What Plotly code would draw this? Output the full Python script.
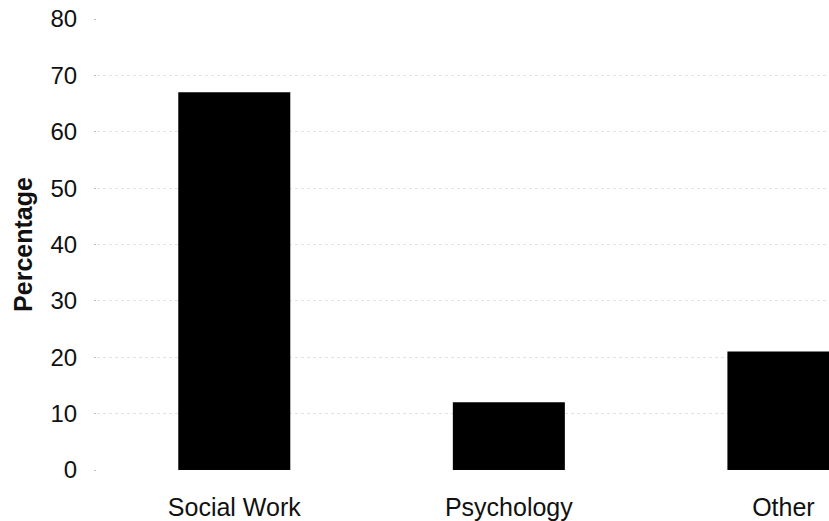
import plotly.graph_objects as go

categories = ["Social Work", "Psychology", "Other"]
values = [67, 12, 21]
y_ticks = [0, 10, 20, 30, 40, 50, 60, 70, 80]

fig = go.Figure(go.Bar(
    x=categories, y=values,
    marker=dict(color="black", line=dict(width=0)),
    width=0.408,
))

fig.update_layout(
    width=829, height=521,
    margin=dict(l=97, r=0, t=19, b=51, autoexpand=False),
    paper_bgcolor="white", plot_bgcolor="white",
    font=dict(family="Liberation Sans, Arial", size=24, color="#111"),
    showlegend=False,
)
fig.update_xaxes(
    range=[-0.5, 2.166],
    showgrid=False, showline=False, zeroline=False,
    ticks="", ticklabelstandoff=20,
    tickfont=dict(size=25),
    automargin=False,
)
fig.update_yaxes(
    range=[0, 80], tickvals=y_ticks,
    showgrid=True, gridcolor="#e2e2e2", griddash="dot", gridwidth=1,
    showline=False, zeroline=False,
    ticks="outside", ticklen=2, tickcolor="#bbbbbb",
    ticklabelstandoff=12,
    tickfont=dict(size=24),
    title=dict(text="<b>Percentage</b>", font=dict(size=25), standoff=10),
    automargin=False,
)
fig.write_html(
    "out.html",
    config={"displayModeBar": False},
    post_script="document.body.style.margin='0';document.body.style.overflow='hidden';",
)
